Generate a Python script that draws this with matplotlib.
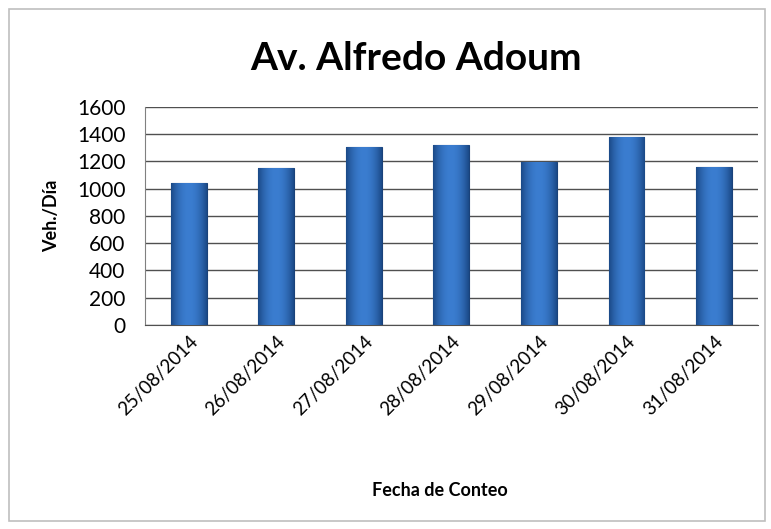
import matplotlib.pyplot as plt
import numpy as np
from matplotlib.patches import Rectangle

# datos
fechas = ['25/08/2014', '26/08/2014', '27/08/2014', '28/08/2014',
          '29/08/2014', '30/08/2014', '31/08/2014']
vehiculos = [1042, 1152, 1306, 1318, 1196, 1378, 1162]
y_ticks = [0, 200, 400, 600, 800, 1000, 1200, 1400, 1600]

plt.rcParams['font.family'] = ['Lato', 'DejaVu Sans']

fig = plt.figure(figsize=(7.71, 5.29), dpi=100)
fig.patches.append(Rectangle((0.012, 0.015), 0.98, 0.968, transform=fig.transFigure,
                             fill=False, edgecolor='#bfbfbf', linewidth=1.2))
ax = fig.add_axes([0.188, 0.386, 0.795, 0.412])

x = np.arange(len(fechas))
ancho = 0.41
barras = ax.bar(x, vehiculos, width=ancho, color='#2f6cb8', edgecolor='#1a427a',
                linewidth=0.8, zorder=3)

# degradado horizontal en cada barra
grad = np.linspace(-1, 1, 64)
grad = 1 - 0.6 * grad**2
grad = np.tile(grad, (2, 1))
cmap = plt.matplotlib.colors.LinearSegmentedColormap.from_list('az', ['#1b4a88', '#3b7dd0'])
for b in barras:
    xb, yb = b.get_x(), b.get_y()
    w, h = b.get_width(), b.get_height()
    im = ax.imshow(grad, extent=[xb, xb + w, yb, yb + h], aspect='auto',
                   cmap=cmap, vmin=0.4, vmax=1, zorder=4)
    im.set_clip_path(b)

ax.set_xlim(-0.5, len(fechas) - 0.5)
ax.set_ylim(0, 1600)
ax.set_yticks(y_ticks)
ax.set_yticklabels([str(v) for v in y_ticks], fontsize=15)
ax.set_xticks(x)
ax.set_xticklabels(fechas, rotation=45, ha='right', rotation_mode='anchor', fontsize=13.5)
ax.yaxis.grid(True, color='#505050', linewidth=1.0, zorder=0)
ax.tick_params(axis='y', length=0, pad=14)
ax.tick_params(axis='x', length=0, pad=6)
for s in ['top', 'right']:
    ax.spines[s].set_visible(False)
ax.spines['left'].set_color('#808080')
ax.spines['bottom'].set_color('#505050')

ax.set_ylabel('Veh./Día', fontsize=13, fontweight='bold', labelpad=12)
fig.text(0.57, 0.063, 'Fecha de Conteo', fontsize=13, fontweight='bold', ha='center')
fig.text(0.54, 0.89, 'Av. Alfredo Adoum', fontsize=28, fontweight='bold', ha='center', va='center')

fig.savefig('out.png', dpi=100)
